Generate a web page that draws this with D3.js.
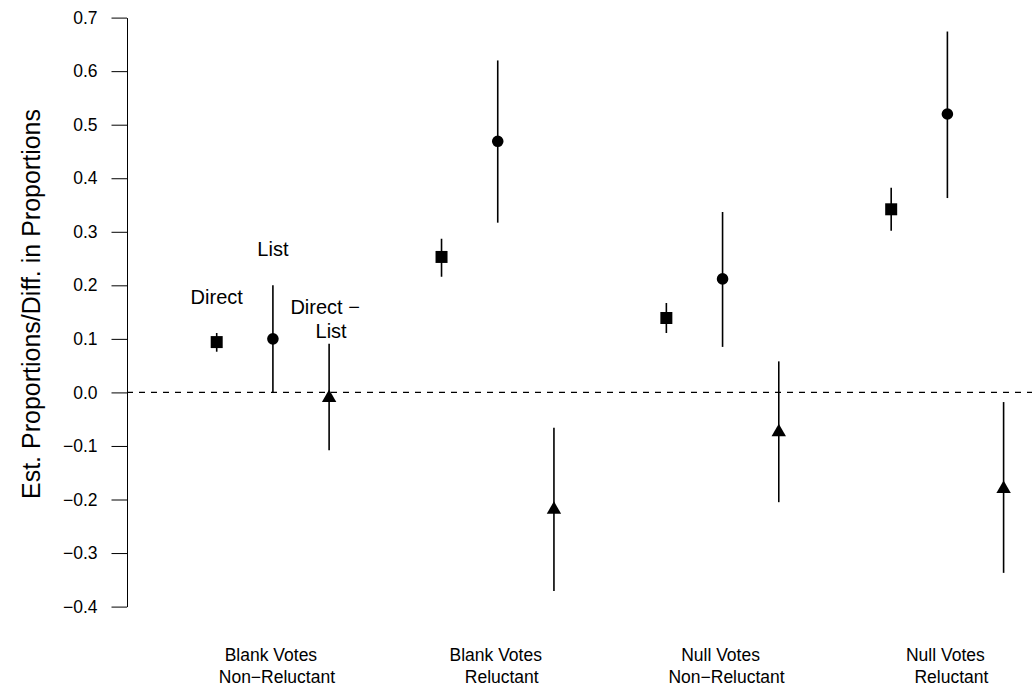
<!DOCTYPE html>
<html><head><meta charset="utf-8">
<script src="https://cdn.jsdelivr.net/npm/d3@7"></script>
<style>
html,body{margin:0;padding:0;background:#fff;}
text{font-family:"Liberation Sans",Arial,Helvetica,sans-serif;fill:#000;}
</style></head>
<body><svg id="chart" width="1032" height="690"></svg>
<script>
// ---- data ----
const groupsLine1 = ["Blank Votes", "Blank Votes", "Null Votes", "Null Votes"];
const groupsLine2 = ["Non\u2212Reluctant", "Reluctant", "Non\u2212Reluctant", "Reluctant"];
const estimators = ["Direct", "List", "Direct \u2212 List"];
const directEst = [0.094, 0.253, 0.139, 0.342];
const directLo  = [0.076, 0.216, 0.111, 0.302];
const directHi  = [0.111, 0.287, 0.167, 0.382];
const listEst   = [0.100, 0.469, 0.212, 0.520];
const listLo    = [0.000, 0.317, 0.085, 0.363];
const listHi    = [0.200, 0.620, 0.337, 0.674];
const diffEst   = [-0.010, -0.219, -0.074, -0.180];
const diffLo    = [-0.108, -0.371, -0.205, -0.337];
const diffHi    = [0.091, -0.066, 0.058, -0.018];
const yTicks = [-0.4, -0.3, -0.2, -0.1, 0.0, 0.1, 0.2, 0.3, 0.4, 0.5, 0.6, 0.7];
const yLabel = "Est. Proportions/Diff. in Proportions";

// ---- build ----
const series = [
  {name: estimators[0], est: directEst, lo: directLo, hi: directHi, shape: "square"},
  {name: estimators[1], est: listEst, lo: listLo, hi: listHi, shape: "circle"},
  {name: estimators[2], est: diffEst, lo: diffLo, hi: diffHi, shape: "triangle"}
];
const points = [];
series.forEach((s, si) => s.est.forEach((v, gi) => points.push({
  pos: gi * 4 + si + 1, est: v, lo: s.lo[gi], hi: s.hi[gi], shape: s.shape, gi, si
})));

const svg = d3.select("#chart");
const x = d3.scaleLinear().domain([1, 15]).range([216.7, 1003.6]);
const y = d3.scaleLinear().domain([-0.4, 0.7]).range([606.6, 17.6]);
const axisX = 127;

// y axis
const yAxis = d3.axisLeft(y).tickValues(yTicks).tickFormat(d3.format(".1f"))
  .tickSizeInner(15.5).tickSizeOuter(0).tickPadding(14);
const gy = svg.append("g").attr("transform", `translate(${axisX},0)`).call(yAxis);
gy.selectAll("text").style("font-size", "17.5px").attr("fill", "#000");
gy.selectAll("line,path").attr("stroke", "#000").attr("stroke-width", 1);

// zero reference line
svg.append("line").attr("x1", axisX).attr("x2", 1032)
  .attr("y1", y(0)).attr("y2", y(0))
  .attr("stroke", "#000").attr("stroke-width", 1.3).attr("stroke-dasharray", "6,6");

// error bars
svg.append("g").selectAll("line").data(points).join("line")
  .attr("x1", d => x(d.pos)).attr("x2", d => x(d.pos))
  .attr("y1", d => y(d.hi)).attr("y2", d => y(d.lo))
  .attr("stroke", "#000").attr("stroke-width", 1.6);

// markers
const symSize = {square: 144, circle: Math.PI * 5.8 * 5.8, triangle: 90};
const symType = {square: d3.symbolSquare, circle: d3.symbolCircle, triangle: d3.symbolTriangle};
svg.append("g").selectAll("path").data(points).join("path")
  .attr("transform", d => `translate(${x(d.pos)},${y(d.est)})`)
  .attr("d", d => d3.symbol().type(symType[d.shape]).size(symSize[d.shape])())
  .attr("fill", "#000");

// estimator annotations over first group
const ann = svg.append("g").style("font-size", "20px").attr("text-anchor", "middle");
ann.append("text").attr("x", x(1)).attr("y", 304).text(estimators[0]);
ann.append("text").attr("x", x(2)).attr("y", 256).text(estimators[1]);
const diffParts = estimators[2].split(" ");
ann.append("text").attr("x", x(3) - 4).attr("y", 314).text(diffParts[0] + " " + diffParts[1]);
ann.append("text").attr("x", x(3) + 2).attr("y", 338).text(diffParts[2]);

// group labels
const gl = svg.append("g").style("font-size", "17.5px").attr("text-anchor", "middle");
groupsLine1.forEach((t, i) => {
  gl.append("text").attr("x", x(i * 4 + 2) - 2).attr("y", 661).text(t);
  gl.append("text").attr("x", x(i * 4 + 2) + 4).attr("y", 683).text(groupsLine2[i]);
});

// y label
svg.append("text").attr("transform", "translate(40,304) rotate(-90)")
  .attr("text-anchor", "middle").style("font-size", "25px").text(yLabel);
</script></body></html>
